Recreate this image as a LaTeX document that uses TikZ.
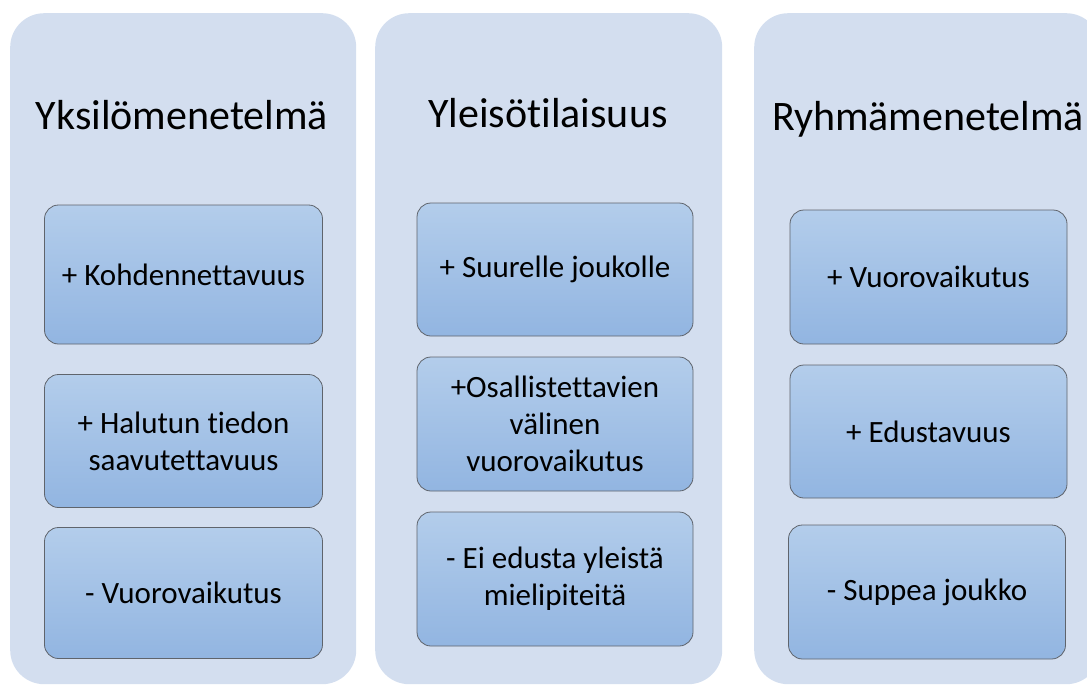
\documentclass[tikz,border=0pt]{standalone}
\usepackage{fontspec}
\setmainfont{Carlito}[Ligatures=NoCommon]
\usetikzlibrary{positioning}

\definecolor{panelfill}{HTML}{D3DEEF}
\definecolor{boxtop}{HTML}{B3CDEB}
\definecolor{boxbot}{HTML}{92B5E1}
\definecolor{boxline}{HTML}{5F646C}

\begin{document}
\begin{tikzpicture}[x=1pt,y=-1pt,
  panel/.style={fill=panelfill, rounded corners=34pt, minimum height=671pt, inner sep=0pt, anchor=north west},
  title/.style={font=\fontsize{42}{50}\selectfont, anchor=base},
  point/.style={draw=boxline, line width=0.8pt, top color=boxtop, bottom color=boxbot, rounded corners=14pt,
    minimum width=278pt, minimum height=133pt, inner sep=4pt, align=center, font=\fontsize{31}{37}\selectfont}]

\useasboundingbox (0,0) rectangle (1087,686);
\clip (0,0) rectangle (1087,686);

% Draw the panels
\foreach \x/\w/\n in {10/346/yksi, 375/347/yleiso, 754/346/ryhma}
{
  \node[panel, minimum width=\w pt] (panel-\n) at (\x,13) {};
}

% Titles
\node[title] (title-yksi) at (182,129) {Yksilömenetelmä};
\node[title] (title-yleiso) at (548,127) {Yleisötilaisuus};
\node[title] (title-ryhma) at (928,130) {Ryhmämenetelmä};

% Left column
\node[point, minimum height=139pt] (yksi-1) at (183.5,274.5) {+ Kohdennettavuus};
\node[point] (yksi-2) at (183.5,441) {+ Halutun tiedon\\saavutettavuus};
\node[point, minimum height=131pt] (yksi-3) at (183.5,593) {- Vuorovaikutus};

% Middle column
\node[point, minimum width=276pt] (yleiso-1) at (555,269.5) {+ Suurelle joukolle};
\node[point, minimum width=276pt, minimum height=134pt] (yleiso-2) at (555,424) {+Osallistettavien\\välinen\\vuorovaikutus};
\node[point, minimum width=276pt, minimum height=134pt] (yleiso-3) at (555,579) {- Ei edusta yleistä\\mielipiteitä};

% Right column
\node[point, minimum width=277pt, minimum height=134pt] (ryhma-1) at (928.5,277) {+ Vuorovaikutus};
\node[point, minimum width=277pt] (ryhma-2) at (928.5,431.5) {+ Edustavuus};
\node[point, minimum width=277pt, minimum height=134pt] (ryhma-3) at (927,592) {- Suppea joukko};

\end{tikzpicture}
\end{document}
